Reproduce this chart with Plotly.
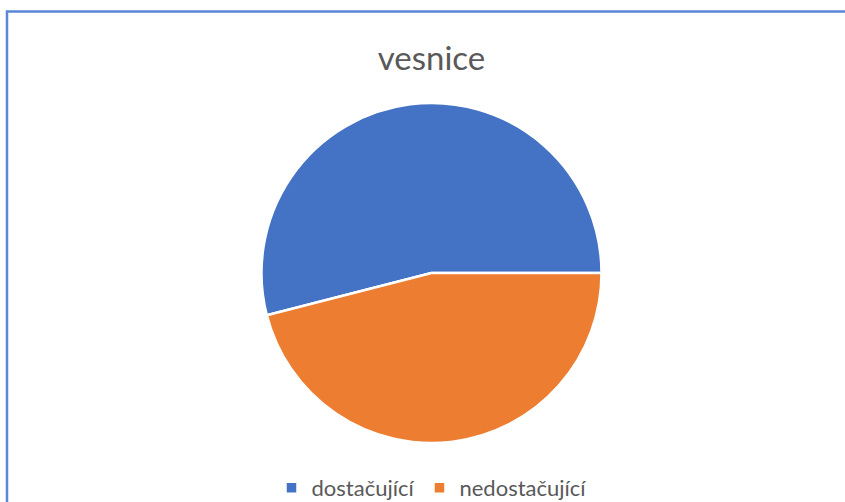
import plotly.graph_objects as go

labels = ["dostačující", "nedostačující"]
values = [54, 46]
colors = ["#4472C4", "#ED7D31"]

W, H = 845, 502
CX = 431.5  # pie centre x in px

# first slice ends at 3 o'clock, drawn clockwise
start = 90 - 360 * values[0] / sum(values)

fig = go.Figure(go.Pie(
    labels=labels,
    values=values,
    sort=False,
    direction="clockwise",
    rotation=start,
    textinfo="none",
    hoverinfo="label+percent",
    marker=dict(colors=colors, line=dict(color="white", width=2.5)),
    domain=dict(x=[2 * CX / W - 1, 1], y=[(H - 443) / H, (H - 103) / H]),
))

fig.update_layout(
    width=W, height=H,
    margin=dict(l=0, r=0, t=0, b=0, autoexpand=False),
    paper_bgcolor="white",
    plot_bgcolor="white",
    font=dict(family="Lato, Carlito, sans-serif", color="#595959"),
    title=dict(text="vesnice", x=CX / W, xanchor="center", y=(H - 58) / H, yanchor="middle",
               font=dict(size=33, color="#595959", family="Lato, sans-serif")),
    showlegend=True,
    legend=dict(orientation="h", x=CX / W, xanchor="center", y=(H - 488) / H, yanchor="middle",
                bgcolor="rgba(0,0,0,0)",
                font=dict(size=22, color="#595959"), itemwidth=30, traceorder="normal"),
    shapes=[dict(type="rect", xref="paper", yref="paper",
                 x0=7 / W, x1=1.1, y0=-0.1, y1=1 - 11.5 / H,
                 line=dict(color="#5B87D6", width=2.5), fillcolor="rgba(0,0,0,0)", layer="below")],
)

fig.write_html("out.html", config={"displayModeBar": False},
               post_script="document.body.style.margin='0';")
